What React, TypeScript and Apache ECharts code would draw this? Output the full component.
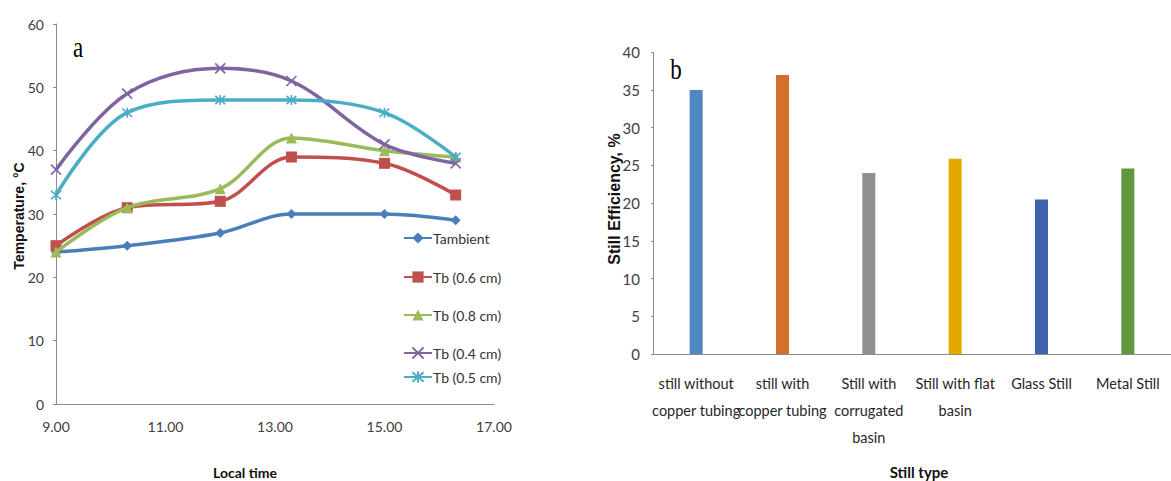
import React, { useEffect, useRef } from "react";
import * as echarts from "echarts";

// ---- Chart (a): temperatures vs local time ----
const times = [9.0, 10.3, 12.0, 13.3, 15.0, 16.3];
const tAmbient = [24, 25, 27, 30, 30, 29];
const tb06 = [25, 31, 32, 39, 38, 33];
const tb08 = [24, 31, 34, 42, 40, 39];
const tb04 = [37, 49, 53, 51, 41, 38];
const tb05 = [33, 46, 48, 48, 46, 39];
const lineNames = ["Tambient", "Tb (0.6 cm)", "Tb (0.8 cm)", "Tb (0.4 cm)", "Tb (0.5 cm)"];
const lineColors = ["#4A7EBB", "#C0504D", "#9BBB59", "#8064A2", "#4BACC6"];

// ---- Chart (b): still efficiency ----
const stillTypes = [
  "still without\ncopper tubing",
  "still with\ncopper tubing",
  "Still with\ncorrugated\nbasin",
  "Still with flat\nbasin",
  "Glass Still",
  "Metal Still",
];
const efficiency = [35, 37, 24, 25.9, 20.5, 24.6];
const barColors = ["#4F88BF", "#D4702C", "#8F8F8F", "#E2A900", "#3E62AC", "#62973E"];

const NARROW = 'Lato, "Liberation Sans Narrow", "DejaVu Sans Condensed", sans-serif';
const BOLD = '"Liberation Sans", Arial, sans-serif';
const SERIF = '"Liberation Serif", "Times New Roman", serif';

export default function App() {
  const ref = useRef<HTMLDivElement>(null);
  useEffect(() => {
    if (!ref.current) return;
    const chart = echarts.init(ref.current, undefined, { renderer: "svg" });

    const lineData = [tAmbient, tb06, tb08, tb04, tb05];
    const symbols = [
      "diamond",
      "rect",
      "triangle",
      "path://M0,0L10,10M10,0L0,10",
      "path://M0,0L10,10M10,0L0,10M5,-1L5,11",
    ];
    const symSizes = [10, 11, 11, 10, 10];
    const legendY = [238, 277, 315, 353, 377];

    const lineSeries = lineData.map((vals, i) => ({
      type: "line",
      name: lineNames[i],
      xAxisIndex: 0,
      yAxisIndex: 0,
      smooth: 0.35,
      data: vals.map((v, j) => [times[j], v]),
      symbol: symbols[i],
      symbolSize: symSizes[i],
      lineStyle: { color: lineColors[i], width: 3.5 },
      itemStyle: {
        color: lineColors[i],
        borderColor: lineColors[i],
        borderWidth: i >= 3 ? 1.6 : 0,
      },
      z: 2 + i,
    }));

    const axisGray = "#8C8C8C";

    chart.setOption({
      animation: false,
      backgroundColor: "#ffffff",
      grid: [
        { left: 56, top: 24, width: 438, height: 380 },
        { left: 653, top: 52.3, width: 532, height: 301.7 },
      ],
      legend: lineNames.map((n, i) => ({
        data: [n],
        left: 403,
        top: legendY[i] - 7,
        padding: 0,
        itemWidth: 28,
        itemHeight: 14,
        itemGap: 2,
        textStyle: { fontFamily: NARROW, fontSize: 14, color: "#333", padding: [0, 0, 0, -4] },
        selectedMode: false,
      })),
      xAxis: [
        {
          type: "value",
          gridIndex: 0,
          min: 9,
          max: 17,
          interval: 2,
          axisLine: { show: true, lineStyle: { color: axisGray, width: 1 } },
          axisTick: { show: false },
          splitLine: { show: false },
          axisLabel: {
            fontFamily: NARROW,
            fontSize: 14,
            color: "#404040",
            margin: 15,
            formatter: (v: number) => v.toFixed(2),
          },
        },
        {
          type: "category",
          gridIndex: 1,
          data: stillTypes,
          boundaryGap: true,
          axisLine: { show: true, lineStyle: { color: axisGray, width: 1 } },
          axisTick: { show: false },
          axisLabel: {
            interval: 0,
            fontFamily: NARROW,
            fontSize: 14.5,
            lineHeight: 27,
            color: "#262626",
            margin: 16,
          },
        },
      ],
      yAxis: [
        {
          type: "value",
          gridIndex: 0,
          min: 0,
          max: 60,
          interval: 10,
          axisLine: { show: true, lineStyle: { color: axisGray, width: 1 } },
          axisTick: { show: true, inside: false, length: 3, lineStyle: { color: axisGray } },
          splitLine: { show: false },
          axisLabel: { fontFamily: NARROW, fontSize: 14, color: "#404040", margin: 12 },
        },
        {
          type: "value",
          gridIndex: 1,
          min: 0,
          max: 40,
          interval: 5,
          axisLine: { show: true, lineStyle: { color: axisGray, width: 1 } },
          axisTick: { show: true, inside: false, length: 2, lineStyle: { color: axisGray } },
          splitLine: { show: false },
          axisLabel: { fontFamily: NARROW, fontSize: 15, color: "#404040", margin: 13 },
        },
      ],
      series: [
        ...lineSeries,
        {
          type: "bar",
          name: "Still Efficiency",
          xAxisIndex: 1,
          yAxisIndex: 1,
          barWidth: 13,
          data: efficiency.map((v, i) => ({ value: v, itemStyle: { color: barColors[i] } })),
        },
      ],
      graphic: [
        {
          type: "text",
          x: 19,
          y: 216,
          rotation: Math.PI / 2,
          style: {
            text: "Temperature, °C",
            fontFamily: BOLD,
            fontWeight: "bold",
            fontSize: 14,
            fill: "#111",
            textAlign: "center",
            textVerticalAlign: "middle",
          },
        },
        {
          type: "text",
          x: 614,
          y: 199,
          rotation: Math.PI / 2,
          style: {
            text: "Still Efficiency, %",
            fontFamily: BOLD,
            fontWeight: "bold",
            fontSize: 16,
            fill: "#111",
            textAlign: "center",
            textVerticalAlign: "middle",
          },
        },
        {
          type: "text",
          x: 245,
          y: 472,
          style: {
            text: "Local time",
            fontFamily: NARROW,
            fontWeight: "bold",
            fontSize: 14,
            fill: "#111",
            textAlign: "center",
            textVerticalAlign: "middle",
          },
        },
        {
          type: "text",
          x: 919,
          y: 472,
          style: {
            text: "Still type",
            fontFamily: NARROW,
            fontWeight: "bold",
            fontSize: 15,
            fill: "#111",
            textAlign: "center",
            textVerticalAlign: "middle",
          },
        },
        {
          type: "text",
          x: 78,
          y: 48,
          scaleY: 1.25,
          style: {
            text: "a",
            fontFamily: SERIF,
            fontSize: 23,
            fill: "#000",
            textAlign: "center",
            textVerticalAlign: "middle",
          },
        },
        {
          type: "text",
          x: 676,
          y: 70,
          scaleY: 1.25,
          style: {
            text: "b",
            fontFamily: SERIF,
            fontSize: 23,
            fill: "#000",
            textAlign: "center",
            textVerticalAlign: "middle",
          },
        },
      ],
    });

    return () => chart.dispose();
  }, []);

  return (
    <div
      ref={ref}
      style={{ position: "fixed", left: 0, top: 0, width: 1171, height: 481, background: "#fff" }}
    />
  );
}
